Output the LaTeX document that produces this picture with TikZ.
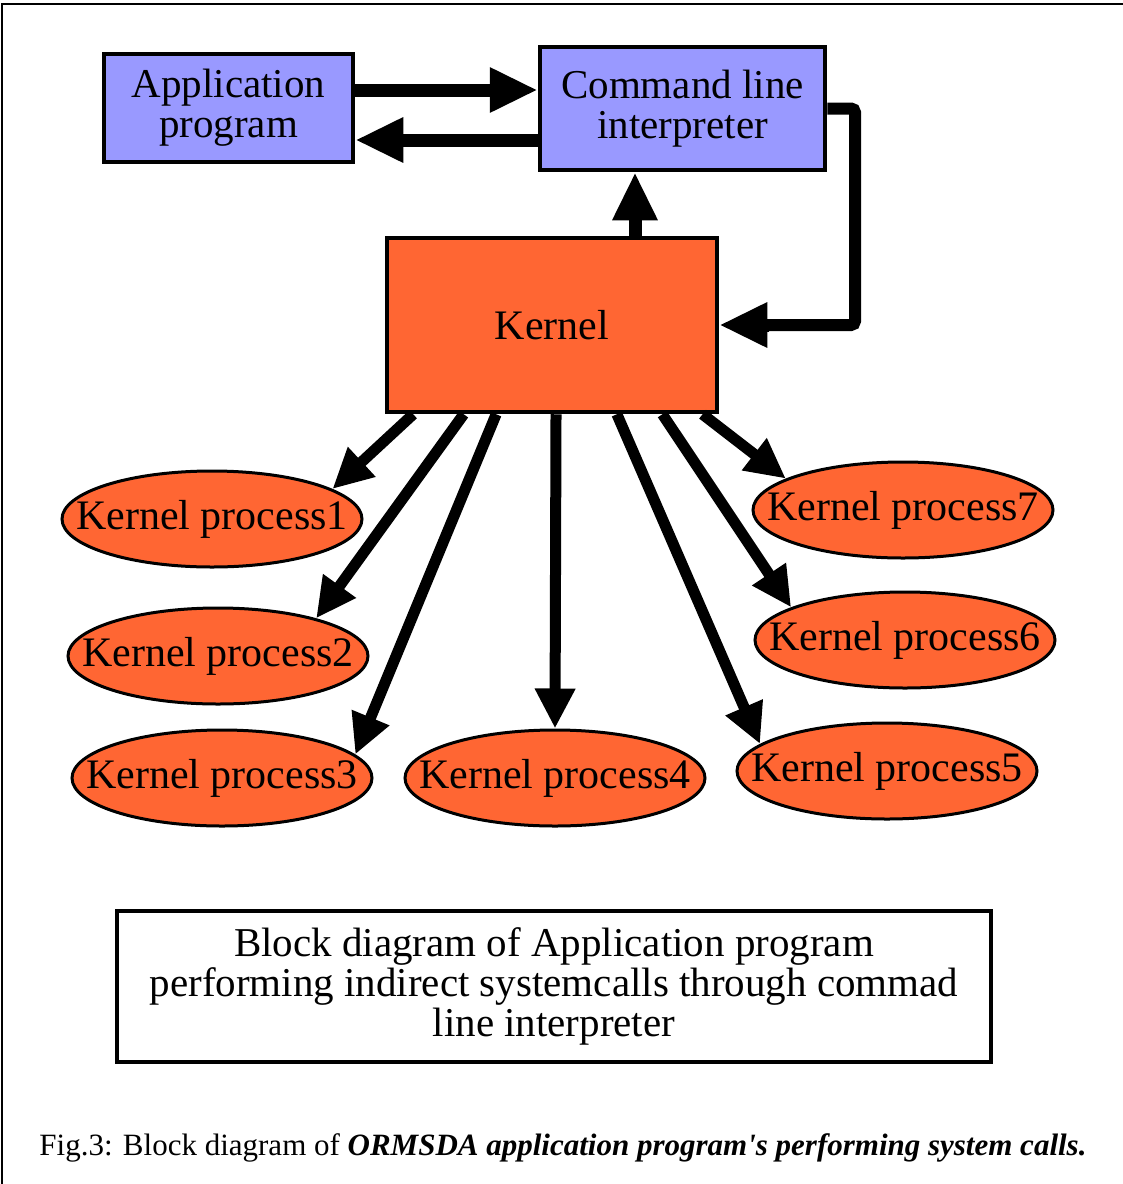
\documentclass[tikz,border=0pt]{standalone}
\usepackage{fontspec}
\setmainfont{Liberation Serif}
\usetikzlibrary{arrows.meta,calc,shapes.geometric}
\definecolor{lav}{HTML}{9999FF}
\definecolor{org}{HTML}{FF6633}
\tikzset{
  bluebox/.style={draw=black,line width=4.5pt,fill=lav,align=center,font=\fontsize{41}{40}\selectfont,inner sep=0pt},
  kernbox/.style={draw=black,line width=4.5pt,fill=org,font=\fontsize{42}{40}\selectfont,inner sep=0pt},
  proc/.style={ellipse,draw=black,line width=3pt,fill=org,minimum width=300pt,minimum height=96pt,inner sep=-40pt,font=\fontsize{42}{40}\selectfont},
  bigarrow/.style={line width=13pt,-{Triangle[length=48pt,width=42pt]}},
  karrow/.style={line width=11pt,-{Triangle[length=40pt,width=38pt]}},
}
\begin{document}
\begin{tikzpicture}[x=1pt,y=-1pt]
\useasboundingbox (0,0) rectangle (1123,1184);
% frame
\draw[line width=2pt] (2,1184) -- (2,4) -- (1123,4);
% boxes
\node[bluebox,minimum width=249pt,minimum height=108pt] (app) at (228.5,108) {Application\\program};
\node[bluebox,minimum width=285pt,minimum height=123pt] (cli) at (682.5,108.5) {Command line\\interpreter};
\node[kernbox,minimum width=330pt,minimum height=174pt] (k) at (552,325) {Kernel};
% processes
\node[proc] (p1) at (212,519) {Kernel process1};
\node[proc] (p2) at (218,656) {Kernel process2};
\node[proc] (p3) at (222,778) {Kernel process3};
\node[proc] (p4) at (555,778) {Kernel process4};
\node[proc] (p5) at (887,771) {Kernel process5};
\node[proc] (p6) at (905,640) {Kernel process6};
\node[proc] (p7) at (903,510) {Kernel process7};
% top arrows
\draw[bigarrow] (app.east |- 0,90) -- (cli.west |- 0,90);
\draw[bigarrow] (cli.west |- 0,140) -- (app.east |- 0,140);
\draw[bigarrow] (k.north -| 635,0) -- (cli.south -| 635,0);
\draw[line width=12pt,rounded corners=4pt] (cli.east) -- (855,108.5) -- (855,325) -- ($(k.east)+(48,0)$);
\draw[bigarrow] ($(k.east)+(50,0)$) -- (k.east);
% kernel to processes
\draw[karrow] ($(k.south west)!0.085!(k.south east)$) -- (p1.14);
\draw[karrow] ($(k.south west)!0.236!(k.south east)$) -- (p2.21);
\draw[karrow] ($(k.south west)!0.333!(k.south east)$) -- (p3.10);
\draw[karrow] ($(k.south west)!0.512!(k.south east)$) -- (p4.north);
\draw[karrow] ($(k.south west)!0.694!(k.south east)$) -- (p5.168);
\draw[karrow] ($(k.south west)!0.83!(k.south east)$) -- (p6.164);
\draw[karrow] ($(k.south west)!0.95!(k.south east)$) -- (p7.165);
% description box
\node[draw=black,line width=4pt,minimum width=874pt,minimum height=151pt,align=center,inner sep=0pt,font=\fontsize{41}{40}\selectfont] (desc) at (554,986.5)
  {Block diagram of Application program\\performing indirect systemcalls through commad\\line interpreter};
% caption
\node[font=\fontsize{31}{34}\selectfont,inner sep=0pt] (cap) at (563,1148)
  {Fig.3: Block diagram of \textbf{\textit{ORMSDA application program\textquotesingle s performing system calls.}}};
\end{tikzpicture}
\end{document}
